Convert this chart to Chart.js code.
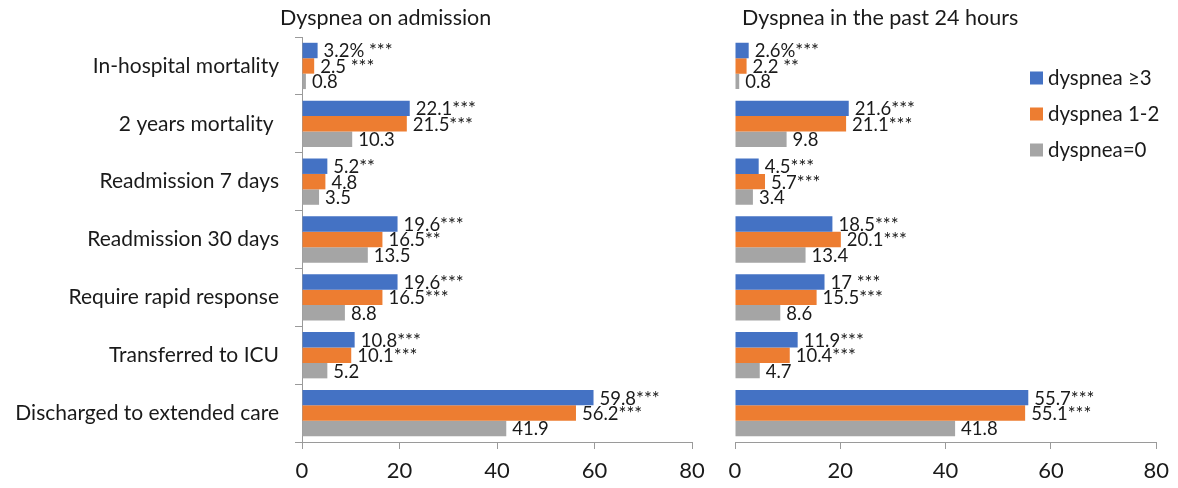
<!DOCTYPE html>
<html><head><meta charset="utf-8">
<script src="https://cdn.jsdelivr.net/npm/chart.js@4.4.0/dist/chart.umd.min.js"></script>
<style>
html,body{margin:0;padding:0;background:#fff;width:1178px;height:488px;overflow:hidden}
#c1{position:absolute;left:0;top:0}
#c2{position:absolute;left:715px;top:0}
</style></head><body>
<canvas id="c1" width="715" height="488"></canvas>
<canvas id="c2" width="463" height="488"></canvas>
<script>
const categories = ["In-hospital mortality","2 years mortality ","Readmission 7 days","Readmission 30 days","Require rapid response","Transferred to ICU","Discharged to extended care"];
const seriesNames = ["dyspnea \u22653","dyspnea 1-2","dyspnea=0"];
const seriesColors = ["#4472C4","#ED7D31","#A5A5A5"];
const xTicks = [0,20,40,60,80];
const panelTitles = ["Dyspnea on admission","Dyspnea in the past 24 hours"];

const admHigh = [3.2,22.1,5.2,19.6,19.6,10.8,59.8];
const admMid  = [2.5,21.5,4.8,16.5,16.5,10.1,56.2];
const admNone = [0.8,10.3,3.5,13.5,8.8,5.2,41.9];
const admHighText = ["3.2% ***","22.1***","5.2**","19.6***","19.6***","10.8***","59.8***"];
const admMidText  = ["2.5 ***","21.5***","4.8","16.5**","16.5***","10.1***","56.2***"];
const admNoneText = ["0.8","10.3","3.5","13.5","8.8","5.2","41.9"];

const p24High = [2.6,21.6,4.5,18.5,17,11.9,55.7];
const p24Mid  = [2.2,21.1,5.7,20.1,15.5,10.4,55.1];
const p24None = [0.8,9.8,3.4,13.4,8.6,4.7,41.8];
const p24HighText = ["2.6%***","21.6***","4.5***","18.5***","17 ***","11.9***","55.7***"];
const p24MidText  = ["2.2 **","21.1***","5.7***","20.1***","15.5***","10.4***","55.1***"];
const p24NoneText = ["0.8","9.8","3.4","13.4","8.6","4.7","41.8"];

const FONT = "Lato, 'DejaVu Sans', sans-serif";
const TXT = "#1a1a1a";
const AX = "#9a9a9a";
Chart.defaults.font.family = FONT;
Chart.defaults.color = TXT;

const labelPlugin = {
  id: 'vlabels',
  afterDatasetsDraw(chart) {
    const ctx = chart.ctx;
    ctx.save();
    ctx.font = "18.5px " + FONT;
    ctx.fillStyle = TXT;
    ctx.textBaseline = 'middle';
    ctx.textAlign = 'left';
    chart.data.datasets.forEach((ds, i) => {
      chart.getDatasetMeta(i).data.forEach((bar, j) => {
        ctx.fillText(ds.valueText[j], bar.x + 6, bar.y + 1);
      });
    });
    ctx.restore();
  }
};

const titlePlugin = {
  id: 'ptitle',
  afterDraw(chart, args, opts) {
    const ctx = chart.ctx;
    ctx.save();
    ctx.font = "21.5px " + FONT;
    ctx.fillStyle = TXT;
    ctx.textBaseline = 'middle';
    ctx.textAlign = 'left';
    ctx.fillText(opts.text, chart.chartArea.left + opts.dx, 18);
    ctx.restore();
  }
};

const legendPlugin = {
  id: 'flegend',
  afterDraw(chart, args, opts) {
    if (!opts.show) return;
    const ctx = chart.ctx;
    ctx.save();
    ctx.font = "20.5px " + FONT;
    ctx.textBaseline = 'middle';
    ctx.textAlign = 'left';
    chart.data.datasets.forEach((ds, i) => {
      const y = opts.y0 + i * opts.gap;
      ctx.fillStyle = ds.backgroundColor;
      ctx.fillRect(opts.x, y - 6.5, 13, 13);
      ctx.fillStyle = TXT;
      ctx.fillText(ds.label, opts.x + 18, y);
    });
    ctx.restore();
  }
};

function makeChart(id, vals, texts, opt) {
  return new Chart(document.getElementById(id), {
    type: 'bar',
    data: {
      labels: categories,
      datasets: vals.map((v, i) => ({
        label: seriesNames[i],
        data: v,
        valueText: texts[i],
        backgroundColor: seriesColors[i],
        borderWidth: 0,
        categoryPercentage: 0.8,
        barPercentage: 1.0
      }))
    },
    options: {
      indexAxis: 'y',
      responsive: false,
      animation: false,
      devicePixelRatio: 1,
      layout: { padding: { top: 37, left: opt.padLeft, right: opt.padRight, bottom: 0 } },
      scales: {
        x: {
          min: xTicks[0], max: xTicks[xTicks.length - 1],
          ticks: { stepSize: xTicks[1] - xTicks[0], font: { size: 22 }, color: TXT, padding: 9, maxRotation: 0 },
          grid: { drawOnChartArea: false, drawTicks: true, tickLength: 7, color: AX },
          border: { display: true, color: AX, width: 1 },
          afterFit(s) { s.height = 46; }
        },
        y: {
          display: opt.showY,
          ticks: { font: { size: 21 }, color: TXT, padding: 16 },
          grid: { drawOnChartArea: false, drawTicks: true, tickLength: 7, color: AX, offset: true },
          border: { display: true, color: AX, width: 1 },
          afterFit(s) { s.width = opt.yWidth; }
        }
      },
      plugins: {
        legend: { display: false },
        tooltip: { enabled: false },
        ptitle: { text: opt.title, dx: opt.titleDx },
        flegend: opt.legend
      }
    },
    plugins: [labelPlugin, titlePlugin, legendPlugin]
  });
}

makeChart('c1', [admHigh, admMid, admNone], [admHighText, admMidText, admNoneText], {
  padLeft: 0, padRight: 23, showY: true, yWidth: 302, title: panelTitles[0], titleDx: -22,
  legend: { show: false }
});
makeChart('c2', [p24High, p24Mid, p24None], [p24HighText, p24MidText, p24NoneText], {
  padLeft: 20, padRight: 20, showY: false, yWidth: 0, title: panelTitles[1], titleDx: 7,
  legend: { show: true, x: 315, y0: 78, gap: 36 }
});
</script>
</body></html>
